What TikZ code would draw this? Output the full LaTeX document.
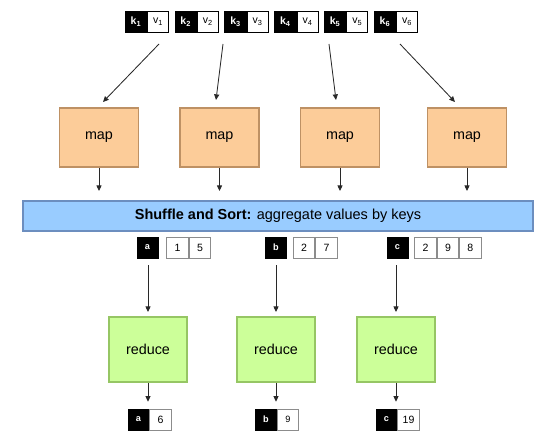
\documentclass[tikz,border=0pt]{standalone}
\usepackage{fontspec}
\setmainfont{Liberation Sans}
\usetikzlibrary{positioning,arrows.meta}

\definecolor{mapfill}{RGB}{252,204,153}
\definecolor{mapedge}{RGB}{190,145,100}
\definecolor{redfill}{RGB}{204,255,153}
\definecolor{rededge}{RGB}{150,198,100}
\definecolor{sortfill}{RGB}{153,204,255}
\definecolor{sortedge}{RGB}{108,142,191}
\definecolor{celledge}{RGB}{140,140,140}
\definecolor{flowgray}{RGB}{40,40,40}

\tikzset{
  keycell/.style={draw=black, fill=black, text=white, inner sep=0pt,
    font=\fontsize{7.5}{8}\selectfont\bfseries, minimum width=0.55cm, minimum height=0.525cm},
  valcell/.style={draw=black, fill=white, inner sep=0pt, line width=0.5pt,
    font=\fontsize{7.5}{8}\selectfont, minimum width=0.525cm, minimum height=0.525cm},
  groupkey/.style={draw=black, fill=black, text=white, inner sep=0pt,
    font=\fontsize{6.5}{7}\selectfont\bfseries, minimum width=0.525cm, minimum height=0.525cm},
  groupval/.style={draw=celledge, fill=white, inner sep=0pt, line width=0.6pt,
    font=\fontsize{7.5}{8}\selectfont, minimum width=0.54cm, minimum height=0.525cm},
  mapbox/.style={draw=mapedge, fill=mapfill, line width=1.4pt,
    font=\fontsize{10.2}{12}\selectfont, minimum width=1.975cm, minimum height=1.475cm},
  redbox/.style={draw=rededge, fill=redfill, line width=1.4pt,
    font=\fontsize{10.2}{12}\selectfont, minimum width=1.95cm, minimum height=1.625cm},
  sortbox/.style={draw=sortedge, fill=sortfill, line width=1.4pt,
    font=\fontsize{10.3}{12}\selectfont, minimum width=12.75cm, minimum height=0.75cm},
  flow/.style={-{Triangle[length=4pt,width=3.6pt]}, flowgray, line width=0.6pt}
}

\begin{document}
\begin{tikzpicture}[x=0.025cm, y=-0.025cm]
  \useasboundingbox (0,0) rectangle (540,440);

  % input pairs
  \foreach \i in {1,...,6} {
    \node[keycell] (k\i) at ({136+49.8*(\i-1)},21.5) {k\textsubscript{\i}};
    \node[valcell, right=0pt of k\i] (v\i) {v\textsubscript{\i}};
  }

  % mappers
  \foreach \i/\x in {1/99, 2/219.5, 3/340, 4/467}
    \node[mapbox] (m\i) at (\x,137.5) {map};

  \node[sortbox] (sh) at (278,216) {\textbf{Shuffle and Sort:} aggregate values by keys};

  % grouped values
  \node[groupkey] (g1) at (147.5,247.5) {a};
  \node[groupval, right=0.2cm of g1] (g11) {1};
  \node[groupval, right=0pt of g11] (g12) {5};
  \node[groupkey] (g2) at (276,247.5) {b};
  \node[groupval, right=0.15cm of g2] (g21) {2};
  \node[groupval, right=0pt of g21] (g22) {7};
  \node[groupkey] (g3) at (397.5,247.5) {c};
  \node[groupval, right=0.15cm of g3] (g31) {2};
  \node[groupval, right=0pt of g31] (g32) {9};
  \node[groupval, right=0pt of g32] (g33) {8};

  % reducers
  \foreach \i/\x in {1/148, 2/276, 3/396}
    \node[redbox] (r\i) at (\x,349.5) {reduce};

  % output pairs
  \node[groupkey] (o1) at (138.5,419.5) {a};
  \node[groupval, right=0pt of o1] (o11) {6};
  \node[groupkey] (o2) at (266,419.5) {b};
  \node[groupval, right=0pt of o2] (o21) {\raisebox{-1.5pt}{\fontsize{6.5}{7}\selectfont 9}};
  \node[groupkey] (o3) at (386.5,419.5) {c};
  \node[groupval, right=0pt of o3] (o31) {19};

  % arrows
  \coordinate (s1) at (159,44);
  \coordinate (s2) at (223,44);
  \coordinate (s3) at (329,44);
  \coordinate (s4) at (400,44);
  \draw[flow] (s1) -- ([xshift=0.1cm, yshift=0.125cm]m1.north);
  \draw[flow] (s2) -- ([xshift=-0.0875cm, yshift=0.175cm]m2.north);
  \draw[flow] (s3) -- ([xshift=-0.1cm, yshift=0.175cm]m3.north);
  \draw[flow] (s4) -- ([xshift=-0.3cm, yshift=0.125cm]m4.north);

  \foreach \i in {1,...,4}
    \draw[flow, shorten >=0.225cm] (m\i) -- (m\i |- sh.north);

  \foreach \i in {1,2,3}
    \draw[flow, shorten <=0.175cm, shorten >=0.1cm] (r\i.north |- g\i.south) -- (r\i);

  \foreach \i in {1,2,3}
    \draw[flow, shorten >=0.175cm] (r\i) -- (r\i |- o\i.north);
\end{tikzpicture}
\end{document}
